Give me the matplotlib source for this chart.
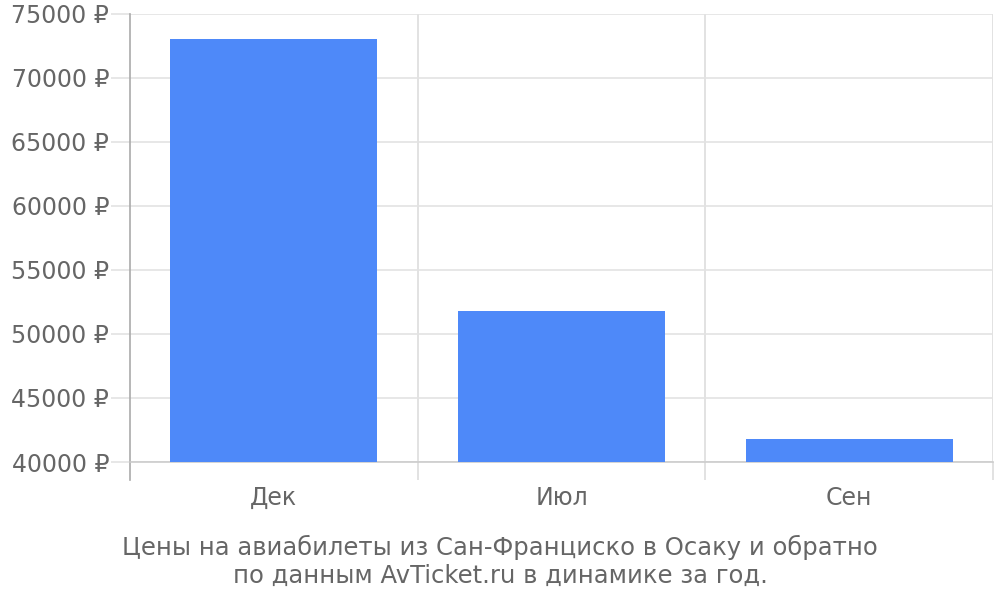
import matplotlib.pyplot as plt
from matplotlib.ticker import FuncFormatter

## данные
months = ['Дек', 'Июл', 'Сен']
prices = [73050, 51820, 41780]
y_ticks = [40000, 45000, 50000, 55000, 60000, 65000, 70000, 75000]

caption1 = 'Цены на авиабилеты из Сан-Франциско в Осаку и обратно'
caption2 = 'по данным AvTicket.ru в динамике за год.'

plt.rcParams['font.family'] = ['DejaVu Sans']
txt_col = '#666666'

fig = plt.figure(figsize=(10, 6), dpi=100)
ax = fig.add_axes([0.13, 0.23, 0.863, 0.7467])

x = list(range(len(months)))
ax.bar(x, prices, width=0.72, color='#4e89f9', zorder=3)

ax.set_xlim(-0.5, len(months) - 0.5)
ax.set_ylim(40000, 75000)
ax.set_yticks(y_ticks)
ax.yaxis.set_major_formatter(FuncFormatter(lambda v, p: '%d ₽' % v))
ax.set_xticks(x)
ax.set_xticklabels(months)
ax.set_xticks([i + 0.5 for i in x], minor=True)

ax.grid(axis='y', color='#e3e3e3', linewidth=1.2, zorder=0)
ax.grid(axis='x', which='minor', color='#dddddd', linewidth=1.2, zorder=0)
ax.grid(axis='x', which='major', visible=False)

ax.tick_params(axis='y', length=14, width=1.2, color='#e3e3e3', pad=1,
               labelsize=17, labelcolor=txt_col)
ax.tick_params(axis='x', which='major', length=0, pad=17,
               labelsize=17, labelcolor=txt_col)
ax.tick_params(axis='x', which='minor', length=13, width=1.2, color='#dddddd')

for s in ['top', 'right']:
    ax.spines[s].set_visible(False)
ax.spines['left'].set_color('#aaaaaa')
ax.spines['left'].set_linewidth(1.2)
ax.spines['left'].set_bounds(40000, 75000)
ax.spines['bottom'].set_color('#cccccc')
ax.spines['bottom'].set_linewidth(1.2)

# левая ось уходит вниз вместе с делениями
ax.plot([-0.5, -0.5], [-0.04, 0], transform=ax.get_xaxis_transform(),
        color='#aaaaaa', linewidth=1.2, clip_on=False)

fig.text(0.5, 1 - 547 / 600, caption1, ha='center', va='center',
         fontsize=17.5, color=txt_col)
fig.text(0.5, 1 - 576 / 600, caption2, ha='center', va='center',
         fontsize=17.5, color=txt_col)

plt.savefig('out.png', dpi=100)
